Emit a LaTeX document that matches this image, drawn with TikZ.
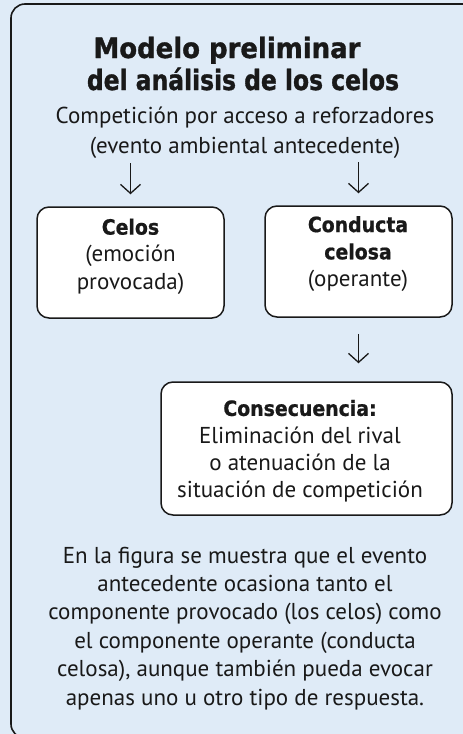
\documentclass[tikz,border=0pt]{standalone}
\usepackage{fontspec}
\setmainfont{PT Sans}
\newfontfamily\heavyfont{DejaVu Sans Condensed Bold}[FakeBold=0.8]
\newfontfamily\titleAfont{DejaVu Sans Condensed Bold}[FakeStretch=1.03,FakeBold=1.2]
\newfontfamily\titleBfont{DejaVu Sans Condensed Bold}[FakeStretch=0.93,FakeBold=1.2]
\usetikzlibrary{arrows.meta}
\definecolor{bgblue}{RGB}{223,235,247}
\definecolor{ink}{RGB}{25,25,25}
\newcommand{\lbl}[1]{{\heavyfont\fontsize{21}{27.2}\selectfont #1}}
\tikzset{
  titlestyle/.style={inner sep=0pt, text=ink},
  bodystyle/.style={inner sep=0pt, text=ink, align=center, font=\fontsize{23}{30}\selectfont},
  notestyle/.style={inner sep=0pt, text=ink, align=center, font=\fontsize{23}{28.4}\selectfont},
  boxtxt/.style={inner sep=0pt, text=ink, align=center, font=\fontsize{23}{27.2}\selectfont},
  roundbox/.style={draw=ink, fill=white, line width=1.5pt, rounded corners=12pt, inner sep=0pt},
  arr/.style={draw=ink, line width=1.3pt, -{Straight Barb[length=9pt,width=20pt,line width=1.3pt]}},
}
\begin{document}
\begin{tikzpicture}[x=1pt,y=-1pt]
\useasboundingbox (0,0) rectangle (463,734);
\clip (0,0) rectangle (463,734);
\fill[bgblue] (0,0) rectangle (463,734);
\draw[ink, line width=1.6pt, rounded corners=14pt] (11,4) rectangle (480,738);

\node[titlestyle, anchor=base, font=\titleAfont\fontsize{28}{32}\selectfont] (t1) at (227,58) {Modelo preliminar};
\node[titlestyle, anchor=base, font=\titleBfont\fontsize{28}{32}\selectfont] (t2) at (243,90) {del análisis de los celos};
\node[bodystyle, anchor=base] (ant) at (245,153) {Competición por acceso a reforzadores\\(evento ambiental antecedente)};

\node[roundbox, minimum width=187pt, minimum height=111pt] (celos) at (130.5,262.5) {};
\node[boxtxt, anchor=base] (celostxt) at (130.5,289) {\lbl{Celos}\\(emoción\\provocada)};

\node[roundbox, minimum width=187pt, minimum height=111pt] (cond) at (358.5,261.5) {};
\node[boxtxt, anchor=base] (condtxt) at (358,286.5) {\lbl{Conducta}\\\lbl{celosa}\\(operante)};

\node[roundbox, minimum width=291pt, minimum height=133pt] (cons) at (306.5,448.5) {};
\node[boxtxt, anchor=base] (constxt) at (300,497.5) {\lbl{Consecuencia:}\\Eliminación del rival\\o atenuación de la\\situación de competición};

\draw[arr] ([yshift=43pt]celos.north) -- ([yshift=12pt]celos.north);
\draw[arr] ([yshift=43pt]cond.north) -- ([yshift=12pt]cond.north);
\draw[arr, shorten <=16pt, shorten >=18pt] (cond.south) -- (cond.south |- cons.north);

\node[notestyle, anchor=base] (nota) at (245,705) {En la figura se muestra que el evento\\antecedente ocasiona tanto el\\componente provocado (los celos) como\\el componente operante (conducta\\celosa), aunque también pueda evocar\\apenas uno u otro tipo de respuesta.};
\end{tikzpicture}
\end{document}
